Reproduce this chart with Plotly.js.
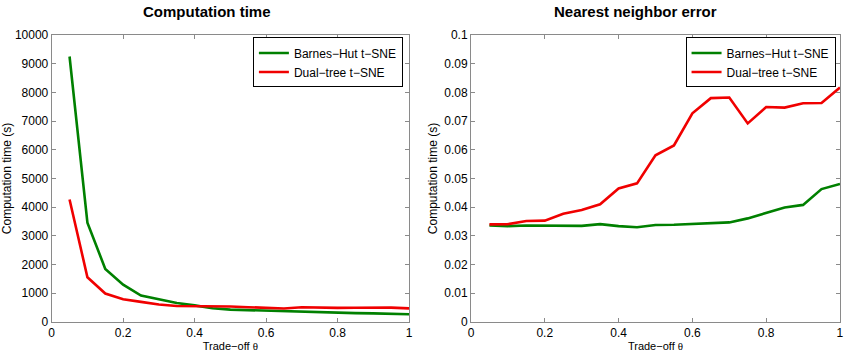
<!DOCTYPE html>
<html>
<head>
<meta charset="utf-8">
<script src="https://cdn.plot.ly/plotly-3.0.1.min.js"></script>
<style>html,body{margin:0;padding:0;background:#fff;}#chart{width:850px;height:360px;}</style>
</head>
<body>
<div id="chart"></div>
<script>
const theta = [0.05,0.10,0.15,0.20,0.25,0.30,0.35,0.40,0.45,0.50,0.55,0.60,0.65,0.70,0.75,0.80,0.85,0.90,0.95,1.00];
const timeBarnesHut = [9250,3460,1850,1300,920,780,660,580,480,430,410,390,370,360,340,330,310,300,290,270];
const timeDualTree  = [4270,1560,990,790,700,610,555,550,560,540,515,500,470,515,490,490,495,505,500,475];
const errBarnesHut = [0.0336,0.0334,0.0336,0.0336,0.0335,0.0335,0.0341,0.0334,0.0330,0.0338,0.0339,0.0342,0.0346,0.0347,0.0361,0.0381,0.0399,0.0408,0.0463,0.0481];
const errDualTree  = [0.0340,0.0341,0.0352,0.0353,0.0377,0.0390,0.0410,0.0465,0.0483,0.0581,0.0615,0.0727,0.0780,0.0782,0.0692,0.0749,0.0747,0.0762,0.0763,0.0817];
const seriesNames = ['Barnes\u2212Hut t\u2212SNE','Dual\u2212tree t\u2212SNE'];
const xTicks = [0,0.2,0.4,0.6,0.8,1];
const xTickText = ['0','0.2','0.4','0.6','0.8','1'];
const timeTicks = [0,1000,2000,3000,4000,5000,6000,7000,8000,9000,10000];
const timeTickText = ['0','1000','2000','3000','4000','5000','6000','7000','8000','9000','10000'];
const errTicks = [0,0.01,0.02,0.03,0.04,0.05,0.06,0.07,0.08,0.09,0.1];
const errTickText = ['0','0.01','0.02','0.03','0.04','0.05','0.06','0.07','0.08','0.09','0.1'];

const green = 'rgb(0,128,0)';
const red = 'rgb(240,0,0)';
const FONT = 'Liberation Sans, Arial, Helvetica, sans-serif';

const traces = [
  {x: theta, y: timeBarnesHut, name: seriesNames[0], mode:'lines', line:{color:green,width:2.6}, xaxis:'x', yaxis:'y', legend:'legend'},
  {x: theta, y: timeDualTree, name: seriesNames[1], mode:'lines', line:{color:red,width:2.6}, xaxis:'x', yaxis:'y', legend:'legend'},
  {x: theta, y: errBarnesHut, name: seriesNames[0], mode:'lines', line:{color:green,width:2.6}, xaxis:'x2', yaxis:'y2', legend:'legend2'},
  {x: theta, y: errDualTree, name: seriesNames[1], mode:'lines', line:{color:red,width:2.6}, xaxis:'x2', yaxis:'y2', legend:'legend2'}
];

const axBase = {
  showline:true, mirror:'ticks', linecolor:'#8a8a8a', linewidth:1,
  ticks:'inside', ticklen:4, tickcolor:'#8a8a8a', showgrid:false, zeroline:false,
  tickfont:{family:FONT,size:12,color:'#000'}
};
const xTitle = {text:'Trade\u2212off <span style="font-family:Liberation Serif, Times New Roman, serif">\u03b8</span>', font:{family:FONT,size:11,color:'#000'}, standoff:2};
const yTitle = {text:'Computation time (s)', font:{family:FONT,size:12,color:'#000'}, standoff:4};

const legBase = {bordercolor:'#000', borderwidth:1, bgcolor:'#fff', font:{family:FONT,size:12,color:'#000'}, xanchor:'right', yanchor:'top', tracegroupgap:0, itemwidth:30};

const layout = {
  width:850, height:360,
  margin:{l:0,r:0,t:0,b:0},
  paper_bgcolor:'#fff', plot_bgcolor:'#fff',
  showlegend:true,
  xaxis: Object.assign({}, axBase, {domain:[0.0608,0.4812], range:[0,1], tickvals:xTicks, ticktext:xTickText, title:xTitle, anchor:'y'}),
  yaxis: Object.assign({}, axBase, {domain:[0.1056,0.9028], range:[0,10000], tickvals:timeTicks, ticktext:timeTickText, title:yTitle, anchor:'x'}),
  xaxis2: Object.assign({}, axBase, {domain:[0.5541,0.9882], range:[0,1], tickvals:xTicks, ticktext:xTickText, title:xTitle, anchor:'y2'}),
  yaxis2: Object.assign({}, axBase, {domain:[0.1056,0.9028], range:[0,0.1], tickvals:errTicks, ticktext:errTickText, title:yTitle, anchor:'x2'}),
  legend: Object.assign({}, legBase, {x:0.474, y:0.896}),
  legend2: Object.assign({}, legBase, {x:0.983, y:0.896}),
  annotations:[
    {text:'<b>Computation time</b>', x:0.2435, y:0.967, xref:'paper', yref:'paper', showarrow:false, xanchor:'center', yanchor:'middle', font:{family:FONT,size:15,color:'#000'}},
    {text:'<b>Nearest neighbor error</b>', x:0.748, y:0.967, xref:'paper', yref:'paper', showarrow:false, xanchor:'center', yanchor:'middle', font:{family:FONT,size:15,color:'#000'}}
  ]
};

Plotly.newPlot('chart', traces, layout, {displayModeBar:false, staticPlot:true});
</script>
</body>
</html>
